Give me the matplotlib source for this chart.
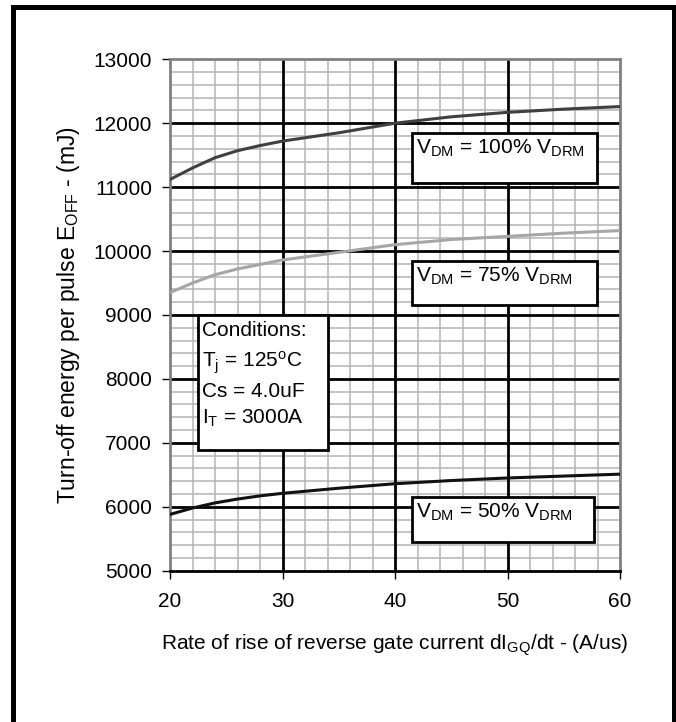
import numpy as np
import matplotlib
matplotlib.use("Agg")
import matplotlib.pyplot as plt
from matplotlib.patches import Rectangle

plt.rcParams['font.family'] = ['Liberation Sans', 'DejaVu Sans']
plt.rcParams['mathtext.fontset'] = 'custom'
plt.rcParams['mathtext.rm'] = 'Liberation Sans'
plt.rcParams['mathtext.it'] = 'Liberation Sans'

# di/dt (A/us)
x_vals = [20, 22, 24, 26, 28, 30, 35, 40, 45, 50, 55, 60]
# E_off (mJ) for each V_DM level
e_100 = [11120, 11300, 11460, 11570, 11650, 11720, 11850, 12000, 12100, 12170, 12220, 12260]
e_75 = [9350, 9500, 9630, 9720, 9790, 9860, 9980, 10100, 10180, 10230, 10280, 10320]
e_50 = [5880, 5980, 6060, 6120, 6170, 6210, 6290, 6360, 6410, 6450, 6480, 6510]

labels = [r'V$_\mathregular{DM}$ = 100% V$_\mathregular{DRM}$',
          r'V$_\mathregular{DM}$ = 75% V$_\mathregular{DRM}$',
          r'V$_\mathregular{DM}$ = 50% V$_\mathregular{DRM}$']
cond_lines = ['Conditions:',
              r'T$_\mathregular{j}$ = 125$^\mathregular{o}$C',
              'Cs = 4.0uF',
              r'I$_\mathregular{T}$ = 3000A']

x_ticks = [20, 30, 40, 50, 60]
y_ticks = [5000, 6000, 7000, 8000, 9000, 10000, 11000, 12000, 13000]

fig = plt.figure(figsize=(6.76, 7.22), dpi=100)
ax = fig.add_axes([0.2515, 0.2096, 0.6657, 0.7083])

ax.set_xlim(20, 60)
ax.set_ylim(5000, 13000)
ax.set_xticks(x_ticks)
ax.set_yticks(y_ticks)
ax.set_xticks(np.arange(20, 61, 2), minor=True)
ax.set_yticks(np.arange(5000, 13001, 200), minor=True)
ax.grid(which='minor', color='#b4b4b4', lw=1.1)
# major grid drawn on top of the minor one
for xv in x_ticks[1:-1]:
    ax.axvline(xv, color='black', lw=2.0, zorder=1.8)
for yv in y_ticks[1:-1]:
    ax.axhline(yv, color='black', lw=2.0, zorder=1.8)
ax.tick_params(which='minor', length=0)
ax.tick_params(axis='y', which='major', length=6, width=1, labelsize=15, pad=7)
ax.tick_params(axis='x', which='major', length=6, width=1, labelsize=15, pad=9)
for s in ['left', 'right', 'top']:
    ax.spines[s].set_color('#808080')
    ax.spines[s].set_linewidth(2)
ax.spines['bottom'].set_color('black')
ax.spines['bottom'].set_linewidth(2)

ax.plot(x_vals, e_100, color='#404040', lw=2.2, zorder=3)
ax.plot(x_vals, e_75, color='#a6a6a6', lw=2.2, zorder=3)
ax.plot(x_vals, e_50, color='#111111', lw=2.2, zorder=3)

# label boxes (x0, x1, y0, y1 in data units)
boxes = [(41.5, 57.96, 11064, 11847),
         (41.5, 57.98, 9154, 9843),
         (41.5, 57.7, 5445, 6150)]
for (x0, x1, y0, y1), lab in zip(boxes, labels):
    ax.add_patch(Rectangle((x0, y0), x1 - x0, y1 - y0, facecolor='white',
                           edgecolor='black', lw=2, zorder=4))
    ax.text(x0 + 0.35, y1 - 70, lab, fontsize=15, ha='left', va='top', zorder=5)

ax.add_patch(Rectangle((22.5, 6886), 34.04 - 22.5, 8998 - 6886, facecolor='white',
                       edgecolor='black', lw=2, zorder=4))
for yb, line in zip([8670, 8185, 7715, 7293], cond_lines):
    ax.text(22.8, yb, line, fontsize=15, ha='left', va='baseline', zorder=5)

ax.set_xlabel(r'Rate of rise of reverse gate current dI$_\mathregular{GQ}$/dt - (A/us)',
              fontsize=15, labelpad=16)
ax.set_ylabel(r'Turn-off energy per pulse E$_\mathregular{OFF}$ - (mJ)',
              fontsize=16.5, labelpad=8)

# outer frame, bottom edge runs off the canvas
fig.patches.append(Rectangle((12.5 / 676, -0.02), (673.5 - 12.5) / 676, 1.02 - 7 / 722,
                             transform=fig.transFigure, fill=False,
                             edgecolor='black', lw=3.6))

fig.savefig('out.png', dpi=100)
